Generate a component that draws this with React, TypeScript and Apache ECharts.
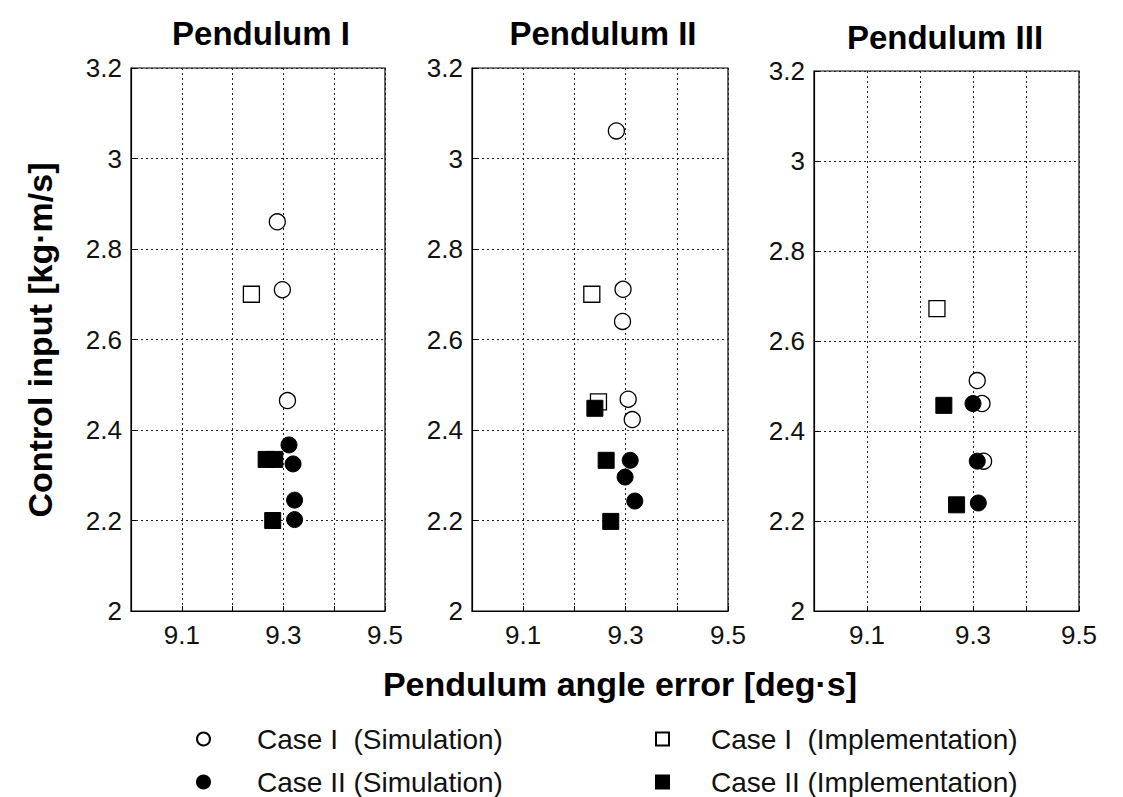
import React, { useEffect, useRef } from "react";
import * as echarts from "echarts";

const panelTitles = ["Pendulum I", "Pendulum II", "Pendulum III"];
const seriesNames = [
  "Case I  (Simulation)",
  "Case II (Simulation)",
  "Case I  (Implementation)",
  "Case II (Implementation)",
];
const xMin = 9.0;
const xMax = 9.5;
const xStep = 0.1;
const yMin = 2;
const yMax = 3.2;
const yStep = 0.2;

// Pendulum I
const p1Case1Sim = [[9.288, 2.86], [9.298, 2.71], [9.308, 2.465]];
const p1Case1Imp = [[9.237, 2.70]];
const p1Case2Sim = [[9.311, 2.367], [9.319, 2.325], [9.322, 2.245], [9.322, 2.202]];
const p1Case2Imp = [[9.266, 2.335], [9.283, 2.335], [9.279, 2.2]];

// Pendulum II
const p2Case1Sim = [[9.282, 3.061], [9.295, 2.711], [9.294, 2.64], [9.305, 2.468], [9.313, 2.423]];
const p2Case1Imp = [[9.234, 2.70], [9.247, 2.462]];
const p2Case2Sim = [[9.309, 2.333], [9.299, 2.296], [9.318, 2.243]];
const p2Case2Imp = [[9.24, 2.448], [9.262, 2.333], [9.271, 2.198]];

// Pendulum III
const p3Case1Sim = [[9.308, 2.512], [9.317, 2.461], [9.32, 2.333]];
const p3Case1Imp = [[9.232, 2.672]];
const p3Case2Sim = [[9.30, 2.461], [9.308, 2.333], [9.31, 2.24]];
const p3Case2Imp = [[9.245, 2.457], [9.269, 2.236]];

const panels = [
  [p1Case1Sim, p1Case2Sim, p1Case1Imp, p1Case2Imp],
  [p2Case1Sim, p2Case2Sim, p2Case1Imp, p2Case2Imp],
  [p3Case1Sim, p3Case2Sim, p3Case1Imp, p3Case2Imp],
];

const FONT = "'Liberation Sans', Arial, sans-serif";

const grids = [
  { left: 131, top: 68, width: 254, height: 543 },
  { left: 472, top: 68, width: 256, height: 543 },
  { left: 814, top: 71, width: 265, height: 540 },
];
const titleCenters = [
  [256, 12],
  [598, 12],
  [940, 16],
];
// legend slots: [left, top, textPadding]
const legendSlots = [
  [196, 725, 42],
  [196, 768, 42],
  [655, 725, 37],
  [655, 768, 37],
];

const styleFor = (k: number) => {
  const filled = k === 1 || k === 3;
  return {
    symbol: k < 2 ? "circle" : "rect",
    itemStyle: filled
      ? { color: "#000", borderColor: "#000", borderWidth: 1, opacity: 1 }
      : { color: "#fff", borderColor: "#000", borderWidth: 1.3, opacity: 1 },
    z: filled ? 3 : 2,
  };
};

export default function App() {
  const ref = useRef<HTMLDivElement>(null);
  useEffect(() => {
    if (!ref.current) return;
    const chart = echarts.init(ref.current, undefined, { renderer: "svg" });
    const splitLine = { show: true, lineStyle: { color: "#222", type: [2, 3], width: 1 } };
    const xAxis = grids.map((_, i) => ({
      type: "value",
      gridIndex: i,
      min: xMin,
      max: xMax,
      interval: xStep,
      axisLine: { show: true, lineStyle: { color: "#000", width: 1.2 } },
      axisTick: { show: true, inside: true, length: 5, lineStyle: { color: "#000" } },
      splitLine,
      axisLabel: {
        color: "#111",
        fontFamily: FONT,
        fontSize: 26,
        margin: 11,
        formatter: (v: number) => (Math.round(v * 10) % 2 === 1 ? v.toFixed(1) : ""),
      },
    }));
    const yAxis = grids.map((_, i) => ({
      type: "value",
      gridIndex: i,
      min: yMin,
      max: yMax,
      interval: yStep,
      axisLine: { show: true, lineStyle: { color: "#000", width: 1.2 } },
      axisTick: { show: true, inside: true, length: 5, lineStyle: { color: "#000" } },
      splitLine,
      axisLabel: {
        color: "#111",
        fontFamily: FONT,
        fontSize: 26,
        margin: 9,
        formatter: (v: number) => String(Math.round(v * 10) / 10),
      },
    }));
    const series: any[] = [];
    panels.forEach((sets, i) => {
      sets.forEach((data, k) => {
        series.push({
          type: "scatter",
          name: seriesNames[k],
          xAxisIndex: i,
          yAxisIndex: i,
          data,
          symbolSize: 16,
          ...styleFor(k),
        });
      });
    });
    const legend = legendSlots.map(([left, top, pad], k) => ({
      orient: "horizontal",
      left,
      top,
      padding: 0,
      itemWidth: 13,
      itemHeight: 13,
      selectedMode: false,
      textStyle: { fontFamily: FONT, fontSize: 28, color: "#111", padding: [0, 0, 0, pad] },
      data: [{ name: seriesNames[k], icon: k < 2 ? "circle" : "rect" }],
    }));
    chart.setOption({
      animation: false,
      backgroundColor: "#fff",
      title: panelTitles.map((t, i) => ({
        text: t,
        left: titleCenters[i][0],
        top: titleCenters[i][1],
        textAlign: "center",
        textStyle: { fontFamily: FONT, fontSize: 33, fontWeight: "bold", color: "#000" },
      })),
      grid: grids.map((g) => ({
        ...g,
        show: true,
        borderColor: "#000",
        borderWidth: 1.2,
        backgroundColor: "transparent",
      })),
      xAxis,
      yAxis,
      series,
      legend,
      graphic: [
        {
          type: "text",
          x: 620,
          y: 684,
          style: {
            text: "Pendulum angle error [deg·s]",
            fontFamily: FONT,
            fontSize: 34,
            fontWeight: "bold",
            fill: "#000",
            textAlign: "center",
            textVerticalAlign: "middle",
          },
        },
        {
          type: "text",
          x: 40,
          y: 340,
          rotation: Math.PI / 2,
          style: {
            text: "Control input [kg·m/s]",
            fontFamily: FONT,
            fontSize: 34,
            fontWeight: "bold",
            fill: "#000",
            textAlign: "center",
            textVerticalAlign: "middle",
          },
        },
      ],
    });
    return () => chart.dispose();
  }, []);
  return (
    <div
      ref={ref}
      style={{ position: "fixed", left: 0, top: 0, width: 1123, height: 797, background: "#fff" }}
    />
  );
}
